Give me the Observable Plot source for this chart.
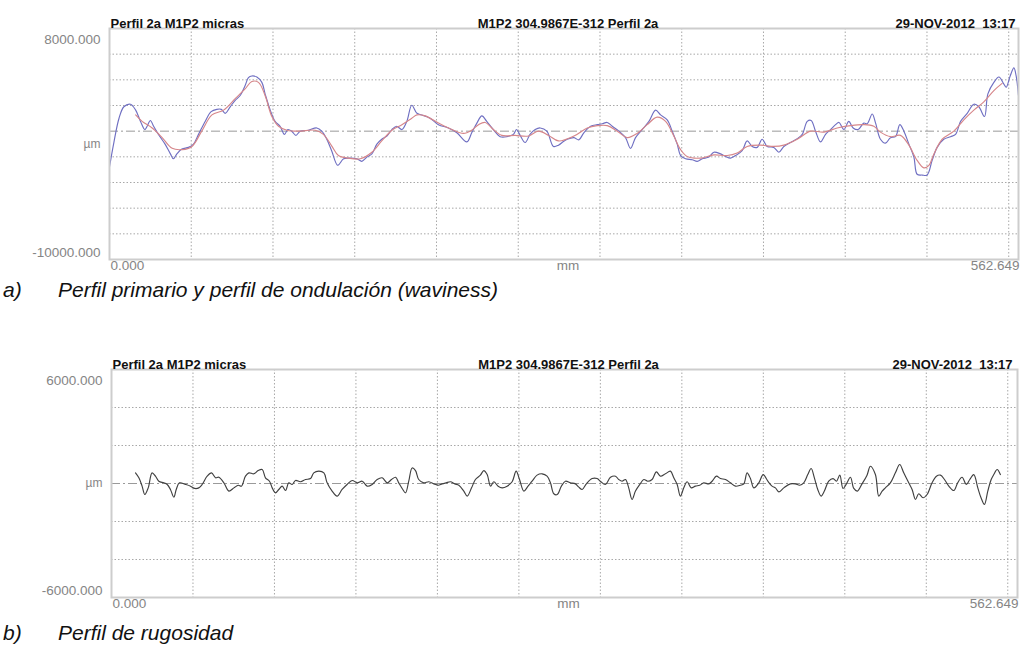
<!DOCTYPE html>
<html><head><meta charset="utf-8">
<script src="https://cdn.jsdelivr.net/npm/d3@7"></script>
<script src="https://cdn.jsdelivr.net/npm/@observablehq/plot@0.6"></script>
<style>
body{margin:0;background:#fff;font-family:"Liberation Sans",Arial,sans-serif;}
#wrap{position:relative;width:1029px;height:646px;overflow:hidden;background:#fff;}
.panel{position:absolute;left:0;}
.cap{position:absolute;font-style:italic;font-size:21px;color:#111;white-space:nowrap;line-height:1;}
</style></head><body>
<div id="wrap">
  <div id="p1" class="panel" style="top:0px"></div>
  <div class="cap" style="left:3px;top:279px">a)</div>
  <div class="cap" style="left:58px;top:279px">Perfil primario y perfil de ondulación (waviness)</div>
  <div id="p2" class="panel" style="top:340px"></div>
  <div class="cap" style="left:3px;top:622px">b)</div>
  <div class="cap" style="left:58px;top:622px">Perfil de rugosidad</div>
</div>
<script>
// ---------- header / tick texts ----------
const headerLeft = "Perfil 2a M1P2 micras";
const headerMid = "M1P2 304.9867E-312 Perfil 2a";
const headerRight = "29-NOV-2012  13:17";
const xLabels = ["0.000", "mm", "562.649"];
const yLabelsTop = ["8000.000", "µm", "-10000.000"];
const yLabelsBottom = ["6000.000", "µm", "-6000.000"];
const xLength = 562.649;

// grid positions (mm, µm)
const xGrid = [50.6, 101.2, 151.8, 202.4, 253.0, 303.6, 354.2, 404.8, 455.4, 506.0, 556.6];
const yGridTop = [6000, 4000, 2000, -2000, -4000, -6000, -8000];
const yGridBottom = [4000, 2000, -2000, -4000];

// ---------- primary profile (blue) ----------
const primaryX = [0,2.7,5.9,8.9,13.0,16.2,19.2,21.9,23.3,25.3,27.3,30.3,34.4,37.7,39.6,41.7,44.8,48.9,52.0,55.1,59.2,62.9,66.4,69.2,71.6,74.7,77.8,80.9,83.9,86.0,88.1,91.2,94.3,96.3,99.5,102.5,105.6,108.3,110.4,112.8,115.4,118.0,123.1,128.3,131.4,134.5,137.5,141.3,144.9,148.9,153.1,156.2,159.3,162.4,165.5,168.5,171.7,174.8,177.8,181.0,184.0,187.1,190.3,193.3,198.5,203.6,209.8,215.0,221.2,224.2,227.4,230.5,233.5,237.6,241.8,246.0,250.0,252.0,254.2,257.3,260.3,263.5,266.6,270.7,274.8,277.9,281.0,283.3,287.5,290.5,293.6,297.8,301.9,305.0,308.1,311.2,315.3,319.4,322.5,325.6,329.7,333.9,338.0,341.1,345.2,348.3,351.4,353.5,356.6,360.7,363.8,366.9,371.0,374.1,378.2,381.3,384.4,387.5,391.6,394.7,397.8,400.9,404.0,407.1,411.2,414.3,417.4,421.5,425.7,428.8,431.9,434.3,437.0,440.1,443.2,446.3,449.4,451.5,454.6,457.6,460.3,463.4,466.9,469.0,472.1,474.2,477.2,480.3,483.4,486.5,489.2,491.7,494.8,497.9,499.9,503.0,506.1,509.2,512.3,516.4,520.6,523.7,526.8,530.9,535.0,538.1,541.6,543.7,547.4,550.5,553.6,555.0,557.5,559.8,561.2,562.6];
const primaryY = [-2780,-885,1010,1900,2100,1640,760,126,380,835,380,-250,-1010,-1770,-2150,-1770,-1390,-1265,-1010,-250,760,1520,1700,1700,1390,1900,2400,2780,3540,4170,4300,4220,3800,2910,1640,760,380,-250,126,0,-330,0,76,250,0,-630,-1520,-2660,-2150,-2100,-2150,-2350,-2020,-1770,-1010,-630,-380,126,380,126,760,2020,1390,1265,1010,506,250,-126,-835,-126,630,1190,760,126,-430,-430,-250,126,-330,-885,-250,126,250,0,-1190,-1090,-800,-630,-506,-680,-126,380,506,580,680,380,0,-506,-1340,-506,126,760,1640,1265,885,0,-1010,-1900,-2150,-2230,-2350,-2150,-2020,-1640,-1770,-1970,-2100,-1900,-1520,-760,-1190,-1265,-630,-1190,-1265,-1640,-1190,-885,-580,-250,760,835,0,-835,-250,126,506,680,126,760,250,126,630,580,1340,630,-630,-935,-506,-430,506,0,-1010,-2020,-3360,-3420,-3420,-2280,-1265,-630,-430,-250,760,1390,2100,1900,1140,2910,3800,4220,3670,3420,4300,4930,4300,2800];

// ---------- waviness profile (red) ----------
const wavinessX = [16.2,20.2,26.4,32.6,38.8,45.0,51.0,57.1,63.4,70.6,77.8,83.9,88.1,92.2,96.3,100.5,104.6,109.8,117.0,127.3,132.4,137.5,141.7,147.9,155.2,162.4,168.5,174.8,181.0,187.1,190.3,195.4,203.6,211.9,219.1,224.2,228.4,232.5,237.6,242.8,251.1,259.3,265.5,271.8,277.9,287.5,295.7,301.9,308.1,314.3,320.5,326.6,332.8,339.0,344.2,349.3,353.5,357.6,365.8,374.1,382.4,388.5,394.7,403.0,411.2,417.4,425.7,433.9,442.2,450.4,458.7,466.9,473.1,477.2,483.4,489.6,494.8,499.9,504.1,507.2,510.3,515.4,522.6,528.8,535.0,541.2,547.4,552.5];
const wavinessY = [1265,760,250,-500,-1340,-1440,-1190,0,1265,1640,2530,3290,3870,3800,2780,1140,380,76,0,76,-250,-1140,-1900,-2100,-2150,-1640,-760,76,506,1010,1265,1190,630,126,-177,76,506,680,126,-330,-330,-380,0,-330,-760,-380,250,430,430,0,-506,-177,506,1090,760,-380,-1440,-1970,-2100,-1850,-1900,-1700,-1190,-1090,-1190,-1090,-630,0,-76,250,430,506,380,-76,-430,-330,-1090,-2280,-2860,-2660,-1770,-630,0,885,1640,2280,3160,3720];

// ---------- roughness profile (black) ----------
const roughX = [14.9,17.0,19.0,20.7,22.8,25.2,27.3,29.4,32.5,34.6,36.6,38.7,40.2,42.2,46.0,49.1,51.7,54.2,56.3,59.4,62.1,64.6,66.7,69.8,72.9,76.0,78.7,80.7,83.2,85.3,88.4,91.1,93.6,95.6,98.1,99.8,101.8,103.9,106.0,108.1,110.1,112.2,114.3,117.4,120.5,123.6,125.6,128.8,131.9,133.9,137.0,140.1,143.2,146.3,149.5,152.6,155.7,158.8,161.9,165.0,168.1,171.2,173.9,176.4,178.4,180.9,182.6,184.6,186.7,188.8,190.8,193.9,197.1,200.2,202.9,205.3,207.8,210.5,213.2,215.7,218.8,220.9,223.6,226.0,229.1,231.2,233.3,235.4,237.4,240.1,242.6,245.7,248.8,251.3,253.4,256.1,258.7,261.2,264.3,267.4,270.5,272.6,274.7,276.8,279.4,281.9,285.0,288.1,290.2,292.3,294.9,298.5,301.6,303.6,306.7,309.9,313.0,315.0,317.1,319.2,321.2,323.3,325.4,328.1,330.6,333.0,335.7,338.4,340.9,344.0,347.1,349.2,351.3,353.3,355.4,357.5,360.0,362.6,365.3,367.8,370.9,373.0,375.7,378.2,381.3,384.4,387.5,390.6,392.7,394.7,396.8,398.9,402.0,404.7,407.6,410.2,412.3,414.4,417.5,421.6,424.7,427.4,429.9,432.4,434.5,436.5,438.6,440.7,442.7,445.4,448.1,450.2,452.3,454.3,456.4,458.9,461.0,463.2,466.1,469.2,471.3,474.4,476.5,478.6,480.6,483.7,486.8,489.5,492.0,495.1,497.2,499.3,501.3,504.0,506.5,509.6,512.3,514.8,517.3,520.0,523.1,525.5,528.2,530.9,533.0,535.5,538.0,540.0,542.1,544.2,546.3,547.9,550.0,552.0];
const roughY = [560,300,-140,-580,-230,560,385,120,35,-50,-315,-720,-315,35,-50,-140,-260,-230,-50,385,560,300,330,35,-400,-230,-90,-140,385,560,510,680,735,300,120,-230,-490,-315,-140,-370,35,-50,160,90,210,260,560,650,560,35,-400,-665,-315,-50,160,35,120,-140,-50,210,300,35,210,330,35,-315,-490,120,820,680,210,35,90,-20,-90,-20,35,90,-20,-90,-400,-665,-230,210,440,680,470,-140,90,-140,-230,-140,90,650,210,-400,-140,120,440,510,385,35,-540,-580,-140,120,35,-20,-190,-315,-20,260,260,120,-50,330,385,210,120,210,-230,-840,-400,-50,210,120,210,610,385,510,650,300,-50,-665,-230,90,-230,-140,-90,35,-20,120,385,260,210,35,-140,-90,-20,560,260,-230,35,470,120,-140,-230,-440,-230,-20,-20,-90,35,470,790,300,-315,-665,-400,120,260,120,440,-260,-20,330,-260,-400,-20,440,910,470,-665,-400,-230,35,560,1000,560,35,-315,-840,-540,-750,-580,35,385,440,210,-140,-370,35,330,-50,210,470,-230,-750,-1100,-400,210,470,735,470,-90];

const toRows = (xs, ys) => xs.map((x, i) => ({x, y: ys[i]}));
const primary = toRows(primaryX, primaryY);
const waviness = toRows(wavinessX, wavinessY);
const rough = toRows(roughX, roughY);

const FONT = "Liberation Sans, Arial, sans-serif";
const gridStyle = {stroke: "#a8a8a8", strokeWidth: 1, strokeDasharray: "1.5,2"};
const txt = (s, o) => Plot.text([s], {text: d => d, fontFamily: FONT, ...o});
const headStyle = {fontSize: 13, fontWeight: "bold", fill: "#111"};
const labStyle = {fontSize: 13.5, fill: "#858585"};

function panel({height, mT, mB, mL, mR, yDomain, yGrid, yLabels, series, rightInset}) {
  return Plot.plot({
    width: 1029, height,
    marginTop: mT, marginBottom: mB, marginLeft: mL, marginRight: mR,
    style: {fontFamily: FONT, background: "white", overflow: "visible"},
    x: {domain: [0, xLength], axis: null},
    y: {domain: yDomain, axis: null},
    marks: [
      Plot.ruleX(xGrid, gridStyle),
      Plot.ruleY(yGrid, gridStyle),
      Plot.ruleY([0], {stroke: "#9a9a9a", strokeWidth: 1, strokeDasharray: "9,3,2,3"}),
      ...series.map(s => Plot.line(s.data, {x: "x", y: "y", stroke: s.color, strokeWidth: s.w, curve: "catmull-rom"})),
      Plot.frame({stroke: "#cdcdcd", strokeWidth: 2}),
      // headers
      txt(headerLeft, {frameAnchor: "top-left", dx: 1, dy: -10, textAnchor: "start", ...headStyle}),
      txt(headerMid, {frameAnchor: "top", dx: 4, dy: -10, ...headStyle}),
      txt(headerRight, {frameAnchor: "top-right", dx: rightInset, dy: -10, textAnchor: "end", ...headStyle}),
      // y labels
      txt(yLabels[0], {frameAnchor: "top-left", dx: -9, dy: 6, textAnchor: "end", ...labStyle}),
      txt(yLabels[1], {frameAnchor: "left", dx: -9, textAnchor: "end", ...labStyle, fontSize: 12}),
      txt(yLabels[2], {frameAnchor: "bottom-left", dx: -9, dy: -3, textAnchor: "end", ...labStyle}),
      // x labels
      txt(xLabels[0], {frameAnchor: "bottom-left", dx: 1, dy: 10, textAnchor: "start", ...labStyle}),
      txt(xLabels[1], {frameAnchor: "bottom", dx: 4, dy: 10, ...labStyle}),
      txt(xLabels[2], {frameAnchor: "bottom-right", dx: 1, dy: 10, textAnchor: "end", ...labStyle})
    ]
  });
}

document.getElementById("p1").append(panel({
  height: 280, mT: 28, mB: 21, mL: 109, mR: 11, rightInset: -3,
  yDomain: [-10000, 8000], yGrid: yGridTop, yLabels: yLabelsTop,
  series: [
    {data: primary, color: "#6f6fc2", w: 1.15},
    {data: waviness, color: "#d6868a", w: 1.15}
  ]
}));
document.getElementById("p2").append(panel({
  height: 275, mT: 29, mB: 18, mL: 111, mR: 12, rightInset: -5,
  yDomain: [-6000, 6000], yGrid: yGridBottom, yLabels: yLabelsBottom,
  series: [{data: rough, color: "#404040", w: 1.15}]
}));
</script>
</body></html>
